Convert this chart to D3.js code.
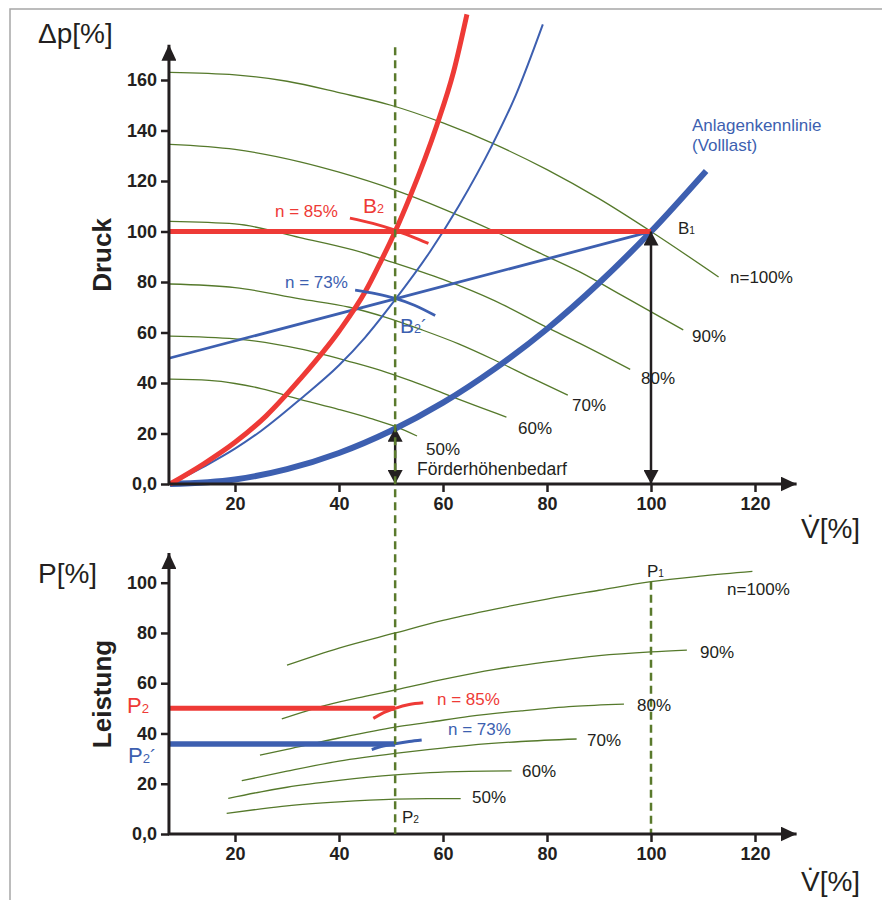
<!DOCTYPE html>
<html>
<head>
<meta charset="utf-8">
<script src="https://cdn.jsdelivr.net/npm/d3@7"></script>
<style>
  html, body { margin: 0; padding: 0; background: #fff; }
  svg { display: block; }
  text { font-family: "Liberation Sans", Arial, Helvetica, sans-serif; }
</style>
</head>
<body>
<svg id="chart" width="882" height="900"></svg>
<script>
// ---------------- DATA ----------------
const xTicks = [20, 40, 60, 80, 100, 120];
const yTicksTop = [0, 20, 40, 60, 80, 100, 120, 140, 160];
const yTicksBottom = [0, 20, 40, 60, 80, 100];
const zeroLabel = "0,0";

// pump curves Δp(V) at speed n (upper chart)
const pumpN100 = [[7.5,163],[20,162],[30,159.5],[40,155],[50,150],[60,143],[70,134.5],[80,124.5],[90,113],[100,100],[113,82]];
const pumpN90  = [[7.5,134.5],[20,132.5],[32.5,127.6],[40,123.5],[50.8,116.4],[60,109],[70,100],[77.3,92.7],[86.3,84],[95,74],[106.2,61]];
const pumpN80  = [[7.5,104],[20,103],[32.5,97.6],[42.7,92.7],[50,88],[60,81],[70,72.5],[80,62],[86.3,55.7],[96,45.4]];
const pumpN70  = [[7.5,79.2],[20,77.8],[32.5,73.3],[42,70],[49,66],[56,61],[63,55.5],[70,49],[77,42],[84,35.2]];
const pumpN60  = [[7.5,58.6],[20,57.5],[32.5,53.5],[42,48.5],[48,45],[54,40.7],[60,36],[66,31.2],[72.2,26.5]];
const pumpN50  = [[7.5,41.5],[15,41],[20,39.8],[25,37.8],[32.5,33.5],[40,29.5],[46,26],[50.8,22.8],[55,19]];
const pumpLabels = ["n=100%", "90%", "80%", "70%", "60%", "50%"];

// system curves (upper chart)
const systemFull  = [[7.5,0],[20,1.8],[30,5.9],[40,12.3],[50,21.1],[60,32.2],[70,45.7],[80,61.4],[90,79.6],[100,100],[110.6,124]];
const systemRed   = [[7.5,0],[14,8],[20,16.5],[26,27],[32.5,41.5],[40,60.5],[45,76],[48,88],[50.8,100],[53.7,114],[58.8,142],[62,163],[64.6,186]];
const systemThin  = [[7.5,0],[15,8],[20,14],[25,21],[32.5,33.5],[40,47],[45,58],[50.8,73],[57.5,92],[63,110],[69.4,134],[74,154],[79.2,182]];
const throttleLine = [[7.3,49.8],[50.8,73.3],[100,100]];
const arcB2  = [[42.1,105.3],[46.5,103.2],[50.8,100.5],[54,98],[57.2,95.3]];
const arcB2p = [[43.1,76.8],[47,75.4],[50.8,73.5],[54.5,70.8],[58.5,66.7]];
const pointB1 = [100, 100];
const pointB2 = [50.8, 100];
const pointB2p = [50.8, 73.5];
const demandHead = 22.3;

// power curves P(V) (lower chart)
const powerN100 = [[30,67.2],[40,74],[50.8,80],[60,85],[70,89.5],[80,93.5],[90,97],[100,100.4],[110,102.7],[119.5,104.5]];
const powerN90  = [[29,45.8],[37.6,51.3],[45,54.8],[50.8,57.3],[60,61.5],[70,65.5],[80,68.5],[90,71],[100,72.5],[106.9,73.2]];
const powerN80  = [[24.8,31.4],[30,33.7],[40,38.2],[50.8,42.5],[57.5,44.5],[65,46.8],[75,49],[85,50.8],[94.8,51.7]];
const powerN70  = [[21.3,21.2],[30,25],[40,29],[50.8,32.1],[57.5,33.7],[65,35.3],[75,36.8],[85.7,37.8]];
const powerN60  = [[18.7,14.2],[25,16.8],[30,18.6],[40,21.3],[50.8,23.5],[57.5,24.4],[65,24.9],[73.2,25.1]];
const powerN50  = [[18.4,8.2],[25,10],[30,11.2],[40,12.8],[50.8,13.9],[57,14.1],[63.4,14.1]];
const arcP2  = [[46.6,46],[48.5,48.2],[50.8,50],[53.5,51.5],[56.2,52.2]];
const arcP2p = [[46.3,33.6],[48.5,35],[50.8,35.9],[53.5,36.8],[55.9,37.4]];
const powerP2 = 50;
const powerP2p = 35.8;
const powerP1 = 100.4;

// axis extents
const xMin = 7.3, xMax = 128;
const yTopMax = 174, yBotMax = 111.8;

// ---------------- STYLE ----------------
const RED = "#ee3a36", BLUE = "#3d5fb0", GREEN = "#55792b", BLACK = "#231f20", DASH = "#5a7a2c";

const svg = d3.select("#chart");

svg.append("rect").attr("x", 10).attr("y", 9).attr("width", 900).attr("height", 900)
  .attr("fill", "none").attr("stroke", "#a6a6a6").attr("stroke-width", 1.5);

const defs = svg.append("defs");
defs.append("marker").attr("id", "arr").attr("viewBox", "0 0 14 15")
  .attr("refX", 14).attr("refY", 7.5).attr("markerWidth", 14).attr("markerHeight", 15)
  .attr("markerUnits", "userSpaceOnUse").attr("orient", "auto-start-reverse")
  .append("path").attr("d", "M0,0 L14,7.5 L0,15 Z").attr("fill", BLACK);
defs.append("marker").attr("id", "axarr").attr("viewBox", "0 0 16 15")
  .attr("refX", 16).attr("refY", 7.5).attr("markerWidth", 16).attr("markerHeight", 15)
  .attr("markerUnits", "userSpaceOnUse").attr("orient", "auto")
  .append("path").attr("d", "M0,0 L16,7.5 L0,15 Z").attr("fill", BLACK);

const x = d3.scaleLinear().domain([20, 120]).range([235, 755]);
const yT = d3.scaleLinear().domain([0, 160]).range([484, 80]);
const yB = d3.scaleLinear().domain([0, 100]).range([834, 582.7]);

const lineT = d3.line().x(d => x(d[0])).y(d => yT(d[1])).curve(d3.curveMonotoneX);
const lineB = d3.line().x(d => x(d[0])).y(d => yB(d[1])).curve(d3.curveMonotoneX);

function txt(g, s, px, py, opts = {}) {
  const t = g.append("text").attr("x", px).attr("y", py)
    .attr("font-size", opts.size || 18).attr("fill", opts.fill || BLACK)
    .attr("font-weight", opts.weight || "normal")
    .attr("text-anchor", opts.anchor || "start");
  if (opts.transform) t.attr("transform", opts.transform);
  t.text(s);
  return t;
}
function subTxt(g, main, sub, extra, px, py, size, fill) {
  const t = g.append("text").attr("x", px).attr("y", py).attr("font-size", size).attr("fill", fill);
  t.append("tspan").text(main);
  t.append("tspan").attr("font-size", size * 0.6).text(sub);
  if (extra) t.append("tspan").attr("font-size", size * 0.85).text(extra);
  return t;
}

function drawAxes(g, y, yTicks, yMax) {
  const ax = d3.axisBottom(x).tickValues(xTicks).tickSize(8).tickSizeOuter(0).tickPadding(5);
  const gx = g.append("g").attr("transform", `translate(0,${y(0)})`).call(ax);
  gx.select(".domain").remove();
  gx.selectAll(".tick line").attr("stroke", BLACK).attr("stroke-width", 2.5);
  gx.selectAll(".tick text").attr("font-size", 18).attr("font-weight", "bold").attr("fill", BLACK)
    .attr("font-family", '"Liberation Sans", Arial, sans-serif');
  const ay = d3.axisLeft(y).tickValues(yTicks).tickSize(8).tickSizeOuter(0).tickPadding(4)
    .tickFormat(v => v === 0 ? zeroLabel : String(v));
  const gy = g.append("g").attr("transform", `translate(${x(xMin)},0)`).call(ay);
  gy.select(".domain").remove();
  gy.selectAll(".tick line").attr("stroke", BLACK).attr("stroke-width", 2.5);
  gy.selectAll(".tick text").attr("font-size", 18).attr("font-weight", "bold").attr("fill", BLACK)
    .attr("font-family", '"Liberation Sans", Arial, sans-serif');
  g.append("line").attr("x1", x(xMin) - 1).attr("y1", y(0)).attr("x2", x(xMax)).attr("y2", y(0))
    .attr("stroke", BLACK).attr("stroke-width", 3).attr("marker-end", "url(#axarr)");
  g.append("line").attr("x1", x(xMin)).attr("y1", y(0) + 1).attr("x2", x(xMin)).attr("y2", y(yMax))
    .attr("stroke", BLACK).attr("stroke-width", 3).attr("marker-end", "url(#axarr)");
}

// ---------------- UPPER CHART ----------------
const gTop = svg.append("g");

[pumpN100, pumpN90, pumpN80, pumpN70, pumpN60, pumpN50].forEach(c => {
  gTop.append("path").attr("d", lineT(c)).attr("fill", "none").attr("stroke", GREEN).attr("stroke-width", 1.3);
});

gTop.append("path").attr("d", lineT(systemThin)).attr("fill", "none").attr("stroke", BLUE).attr("stroke-width", 2);
gTop.append("path").attr("d", lineT(throttleLine)).attr("fill", "none").attr("stroke", BLUE).attr("stroke-width", 2.8);
gTop.append("path").attr("d", lineT(systemFull)).attr("fill", "none").attr("stroke", BLUE).attr("stroke-width", 6);
gTop.append("path").attr("d", lineT(systemRed)).attr("fill", "none").attr("stroke", RED).attr("stroke-width", 5);
gTop.append("line").attr("x1", x(xMin)).attr("x2", x(pointB1[0])).attr("y1", yT(pointB2[1])).attr("y2", yT(pointB2[1]))
  .attr("stroke", RED).attr("stroke-width", 5);
gTop.append("path").attr("d", lineT(arcB2)).attr("fill", "none").attr("stroke", RED).attr("stroke-width", 3);
gTop.append("path").attr("d", lineT(arcB2p)).attr("fill", "none").attr("stroke", BLUE).attr("stroke-width", 2.8);

gTop.append("line").attr("x1", x(pointB1[0])).attr("x2", x(pointB1[0])).attr("y1", yT(0)).attr("y2", yT(pointB1[1]))
  .attr("stroke", BLACK).attr("stroke-width", 2.5)
  .attr("marker-start", "url(#arr)").attr("marker-end", "url(#arr)");
gTop.append("line").attr("x1", x(pointB2[0])).attr("x2", x(pointB2[0])).attr("y1", yT(0)).attr("y2", yT(demandHead))
  .attr("stroke", BLACK).attr("stroke-width", 2.5)
  .attr("marker-start", "url(#arr)").attr("marker-end", "url(#arr)");

drawAxes(gTop, yT, yTicksTop, yTopMax);

// ---------------- LOWER CHART ----------------
const gBot = svg.append("g");
[powerN100, powerN90, powerN80, powerN70, powerN60, powerN50].forEach(c => {
  gBot.append("path").attr("d", lineB(c)).attr("fill", "none").attr("stroke", GREEN).attr("stroke-width", 1.3);
});
gBot.append("line").attr("x1", x(100)).attr("x2", x(100)).attr("y1", yB(powerP1)).attr("y2", yB(0))
  .attr("stroke", DASH).attr("stroke-width", 2.5).attr("stroke-dasharray", "8,5");
gBot.append("line").attr("x1", x(xMin)).attr("x2", x(pointB2[0])).attr("y1", yB(powerP2)).attr("y2", yB(powerP2))
  .attr("stroke", RED).attr("stroke-width", 5);
gBot.append("line").attr("x1", x(xMin)).attr("x2", x(pointB2[0])).attr("y1", yB(powerP2p)).attr("y2", yB(powerP2p))
  .attr("stroke", BLUE).attr("stroke-width", 5.5);
gBot.append("path").attr("d", lineB(arcP2)).attr("fill", "none").attr("stroke", RED).attr("stroke-width", 3);
gBot.append("path").attr("d", lineB(arcP2p)).attr("fill", "none").attr("stroke", BLUE).attr("stroke-width", 3);

drawAxes(gBot, yB, yTicksBottom, yBotMax);

svg.append("line").attr("x1", x(pointB2[0])).attr("x2", x(pointB2[0])).attr("y1", yT(173)).attr("y2", yB(0))
  .attr("stroke", DASH).attr("stroke-width", 2.5).attr("stroke-dasharray", "8,5");

// ---------------- TEXT ----------------
const gText = svg.append("g");
txt(gText, "Δp[%]", 38, 43, { size: 28 });
txt(gText, "P[%]", 38, 583, { size: 28 });
txt(gText, "V\u0307[%]", 801, 538, { size: 28 });
txt(gText, "V\u0307[%]", 801, 891, { size: 28 });
txt(gText, "Druck", 0, 0, { size: 26, weight: "bold", anchor: "middle", transform: "translate(111,255) rotate(-90)" });
txt(gText, "Leistung", 0, 0, { size: 26, weight: "bold", anchor: "middle", transform: "translate(111,694) rotate(-90)" });

const topLabelPos = [[730, 283], [692, 342], [641, 384], [572, 411], [518, 434], [426, 455]];
pumpLabels.forEach((s, i) => txt(gText, s, topLabelPos[i][0], topLabelPos[i][1], { size: 17 }));
txt(gText, "Förderhöhenbedarf", 417, 475, { size: 17.5 });
txt(gText, "Anlagenkennlinie", 692, 131, { size: 17, fill: BLUE });
txt(gText, "(Volllast)", 692, 151, { size: 17, fill: BLUE });
txt(gText, "n = 85%", 275, 217, { size: 17, fill: RED });
txt(gText, "n = 73%", 285, 288, { size: 17, fill: BLUE });
subTxt(gText, "B", "2", null, 363, 213, 21, RED);
subTxt(gText, "B", "2", "´", 400, 333, 21, BLUE);
subTxt(gText, "B", "1", null, 678, 234, 17, BLACK);

const botLabelPos = [[727, 595], [700, 658], [637, 711], [587, 746], [522, 777], [472, 803]];
pumpLabels.forEach((s, i) => txt(gText, s, botLabelPos[i][0], botLabelPos[i][1], { size: 17 }));
txt(gText, "n = 85%", 437, 705, { size: 17, fill: RED });
txt(gText, "n = 73%", 448, 735, { size: 17, fill: BLUE });
subTxt(gText, "P", "1", null, 647, 577, 17, BLACK);
subTxt(gText, "P", "2", null, 402, 823, 17, BLACK);
subTxt(gText, "P", "2", null, 127, 713, 22, RED);
subTxt(gText, "P", "2", "´", 128, 763, 22, BLUE);
</script>
</body>
</html>
